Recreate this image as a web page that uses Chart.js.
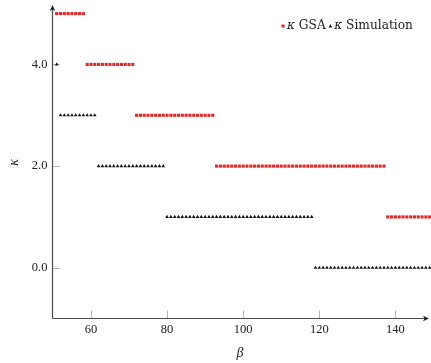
<!DOCTYPE html>
<html>
<head>
<meta charset="utf-8">
<script src="https://cdn.jsdelivr.net/npm/chart.js@4.4.0/dist/chart.umd.min.js"></script>
<style>
  html, body { margin: 0; padding: 0; background: #fff; }
</style>
</head>
<body>
<canvas id="grafico" width="431" height="363"></canvas>
<script>
// beta values, one point per integer step
var beta = [
   51,  52,  53,  54,  55,  56,  57,  58,  59,  60,
   61,  62,  63,  64,  65,  66,  67,  68,  69,  70,
   71,  72,  73,  74,  75,  76,  77,  78,  79,  80,
   81,  82,  83,  84,  85,  86,  87,  88,  89,  90,
   91,  92,  93,  94,  95,  96,  97,  98,  99, 100,
  101, 102, 103, 104, 105, 106, 107, 108, 109, 110,
  111, 112, 113, 114, 115, 116, 117, 118, 119, 120,
  121, 122, 123, 124, 125, 126, 127, 128, 129, 130,
  131, 132, 133, 134, 135, 136, 137, 138, 139, 140,
  141, 142, 143, 144, 145, 146, 147, 148, 149
];
var kappaGSA = [
  5, 5, 5, 5, 5, 5, 5, 5, 4, 4,
  4, 4, 4, 4, 4, 4, 4, 4, 4, 4,
  4, 3, 3, 3, 3, 3, 3, 3, 3, 3,
  3, 3, 3, 3, 3, 3, 3, 3, 3, 3,
  3, 3, 2, 2, 2, 2, 2, 2, 2, 2,
  2, 2, 2, 2, 2, 2, 2, 2, 2, 2,
  2, 2, 2, 2, 2, 2, 2, 2, 2, 2,
  2, 2, 2, 2, 2, 2, 2, 2, 2, 2,
  2, 2, 2, 2, 2, 2, 2, 1, 1, 1,
  1, 1, 1, 1, 1, 1, 1, 1, 1
];
var kappaSim = [
  4, 3, 3, 3, 3, 3, 3, 3, 3, 3,
  3, 2, 2, 2, 2, 2, 2, 2, 2, 2,
  2, 2, 2, 2, 2, 2, 2, 2, 2, 1,
  1, 1, 1, 1, 1, 1, 1, 1, 1, 1,
  1, 1, 1, 1, 1, 1, 1, 1, 1, 1,
  1, 1, 1, 1, 1, 1, 1, 1, 1, 1,
  1, 1, 1, 1, 1, 1, 1, 1, 0, 0,
  0, 0, 0, 0, 0, 0, 0, 0, 0, 0,
  0, 0, 0, 0, 0, 0, 0, 0, 0, 0,
  0, 0, 0, 0, 0, 0, 0, 0, 0
];
var xTicks = [60, 80, 100, 120, 140];
var yTicks = [0, 2, 4];

var rojo = 'rgb(228, 40, 40)';
var negro = '#111';
var serif = 'Liberation Serif';

function puntos(ys) {
  return beta.map(function (b, i) { return { x: b, y: ys[i] }; });
}

// axis lines with arrow heads, inner tick marks and the legend
var ejes = {
  id: 'ejes',
  beforeDatasetsDraw: function (chart) {
    var ctx = chart.ctx, a = chart.chartArea;
    var sx = chart.scales.x, sy = chart.scales.y;
    ctx.save();
    ctx.strokeStyle = '#b5b5b5';
    ctx.lineWidth = 1;
    xTicks.forEach(function (v) {
      var px = Math.round(sx.getPixelForValue(v)) + 0.5;
      ctx.beginPath();
      ctx.moveTo(px, a.bottom);
      ctx.lineTo(px, a.bottom - 8);
      ctx.stroke();
    });
    yTicks.forEach(function (v) {
      var py = Math.round(sy.getPixelForValue(v)) + 0.5;
      ctx.beginPath();
      ctx.moveTo(a.left, py);
      ctx.lineTo(a.left + 7, py);
      ctx.stroke();
    });
    ctx.restore();
  },
  afterDatasetsDraw: function (chart) {
    var ctx = chart.ctx, a = chart.chartArea;
    var x0 = Math.round(a.left) - 0.5, y0 = Math.round(a.bottom) - 0.5;
    ctx.save();
    ctx.strokeStyle = '#4a4a4a';
    ctx.fillStyle = '#222';
    ctx.lineWidth = 1.2;
    ctx.beginPath();
    ctx.moveTo(x0, y0);
    ctx.lineTo(x0, a.top + 3);
    ctx.moveTo(x0, y0);
    ctx.lineTo(chart.width - 5, y0);
    ctx.stroke();
    // arrow heads
    var tipY = a.top - 1, tipX = chart.width - 2;
    ctx.beginPath();
    ctx.moveTo(x0, tipY);
    ctx.lineTo(x0 - 2.8, tipY + 6);
    ctx.lineTo(x0, tipY + 4.5);
    ctx.lineTo(x0 + 2.8, tipY + 6);
    ctx.closePath();
    ctx.fill();
    ctx.beginPath();
    ctx.moveTo(tipX, y0);
    ctx.lineTo(tipX - 6, y0 - 2.8);
    ctx.lineTo(tipX - 4.5, y0);
    ctx.lineTo(tipX - 6, y0 + 2.8);
    ctx.closePath();
    ctx.fill();

    // legend: marker, italic kappa, then the rest of the label
    var ly = 26, lx = 281.5;
    var fuente = '12.2px "DejaVu Serif"';
    var fuenteIt = 'italic 12.2px "DejaVu Serif"';
    ctx.textBaseline = 'middle';
    ctx.textAlign = 'left';
    chart.data.datasets.forEach(function (ds) {
      ctx.fillStyle = ds.backgroundColor;
      if (ds.pointStyle === 'rect') {
        ctx.fillRect(lx, ly - 1.5, 3, 3);
      } else {
        ctx.beginPath();
        ctx.moveTo(lx + 1.6, ly - 2);
        ctx.lineTo(lx + 3.3, ly + 1.5);
        ctx.lineTo(lx - 0.1, ly + 1.5);
        ctx.closePath();
        ctx.fill();
      }
      lx += 5.5;
      ctx.fillStyle = '#222';
      var partes = ds.label.split(' ');
      ctx.font = fuenteIt;
      ctx.fillText(partes[0], lx, ly);
      lx += ctx.measureText(partes[0] + ' ').width;
      ctx.font = fuente;
      var resto = partes.slice(1).join(' ');
      ctx.fillText(resto, lx, ly);
      lx += ctx.measureText(resto).width + 3;
    });
    ctx.restore();
  }
};

var ctx = document.getElementById('grafico').getContext('2d');
var grafico = new Chart(ctx, {
  type: 'scatter',
  data: {
    datasets: [{
      label: 'κ GSA',
      data: puntos(kappaGSA),
      pointStyle: 'rect',
      pointRadius: 2.2,
      borderWidth: 0,
      backgroundColor: rojo,
      clip: false
    }, {
      label: 'κ Simulation',
      data: puntos(kappaSim),
      pointStyle: 'triangle',
      pointRadius: 2.1,
      borderWidth: 0,
      backgroundColor: negro,
      clip: false
    }]
  },
  options: {
    responsive: false,
    animation: false,
    devicePixelRatio: 1,
    layout: { padding: { top: 6, right: 0, left: 0, bottom: 0 } },
    plugins: {
      legend: { display: false },
      tooltip: { enabled: false }
    },
    scales: {
      x: {
        type: 'linear',
        min: 50,
        max: 148.3,
        grid: { display: false, drawTicks: false },
        border: { display: false },
        afterBuildTicks: function (s) { s.ticks = xTicks.map(function (v) { return { value: v }; }); },
        afterFit: function (s) {
          s.height = 44.4;
          s.paddingLeft = 0;
          s.paddingRight = 0;
        },
        ticks: {
          font: { family: serif, size: 12.5 },
          color: '#222',
          padding: 4,
          maxRotation: 0,
          callback: function (v) { return v; }
        },
        title: {
          display: true,
          text: 'β',
          font: { family: serif, size: 14, style: 'italic' },
          color: '#222',
          padding: { top: 0, bottom: 1 }
        }
      },
      y: {
        type: 'linear',
        min: -1,
        max: 5.15,
        grid: { display: false, drawTicks: false },
        border: { display: false },
        afterBuildTicks: function (s) { s.ticks = yTicks.map(function (v) { return { value: v }; }); },
        afterFit: function (s) {
          s.width = 52.9;
          s.paddingTop = 0;
          s.paddingBottom = 0;
        },
        ticks: {
          font: { family: serif, size: 12.5 },
          color: '#222',
          padding: 5.5,
          callback: function (v) { return v.toFixed(1); }
        },
        title: {
          display: true,
          text: 'κ',
          font: { family: serif, size: 14, style: 'italic' },
          color: '#222',
          padding: { top: 6, bottom: 0 }
        }
      }
    }
  },
  plugins: [ejes]
});
</script>
</body>
</html>
